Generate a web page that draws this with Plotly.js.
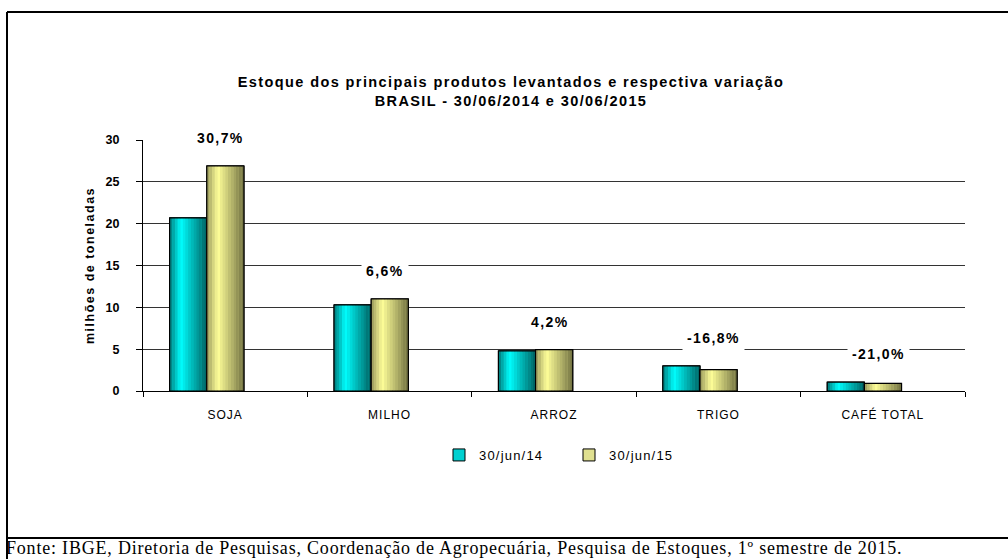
<!DOCTYPE html>
<html>
<head>
<meta charset="utf-8">
<script src="https://cdn.plot.ly/plotly-3.0.1.min.js"></script>
<style>
html,body{margin:0;padding:0;background:#fff;}
#chart{width:1008px;height:559px;}
</style>
</head>
<body>
<div id="chart"></div>
<script>
// ---- data ----
var categories = ["SOJA", "MILHO", "ARROZ", "TRIGO", "CAFÉ TOTAL"];
var serie2014 = [20.7, 10.3, 4.8, 3.0, 1.07];
var serie2015 = [26.9, 11.0, 4.95, 2.55, 0.9];
var seriesNames = ["30/jun/14", "30/jun/15"];
var variacao = ["30,7%", "6,6%", "4,2%", "-16,8%", "-21,0%"];
var yTicks = [0, 5, 10, 15, 20, 25, 30];

// ---- layout geometry (pixels) ----
var W = 1008, H = 559;
var L = 143, R = 965, T = 140, B = 391;
function px(x){ return (x - L) / (R - L); }
function py(y){ return (B - y) / (B - T); }
function sp(txt, ls){ return '<span style="letter-spacing:' + ls + 'px">' + txt + '</span>'; }

var barW = 0.226;      // bar width in category units
var shift = -0.112;    // pair centre offset from category centre

function lerp(a,b,t){return a+(b-a)*t;}
function mix(c1,c2,t){
  return 'rgb('+Math.round(lerp(c1[0],c2[0],t))+','+Math.round(lerp(c1[1],c2[1],t))+','+Math.round(lerp(c1[2],c2[2],t))+')';
}
function gradColor(t, dark1, bright, dark2){
  if (t < 0.3) return mix(dark1, bright, t/0.3);
  return mix(bright, dark2, (t-0.3)/0.7);
}
var grads = [
  {d1:[0,120,120], b:[0,255,255], d2:[0,96,96], solid:'#00d0d0'},
  {d1:[150,150,90], b:[255,255,153], d2:[112,112,64], solid:'#e0e090'}
];

var traces = [];
var N = 14;
[serie2014, serie2015].forEach(function(vals, s){
  var base = shift - barW + s*barW;
  traces.push({
    type:'bar', x:categories, y:vals, name:sp(seriesNames[s], 1.2),
    offset: base, width: barW,
    marker:{color:grads[s].solid, line:{color:'#000', width:1}},
    hoverinfo:'y', showlegend:true
  });
  for (var k=0;k<N;k++){
    var t = (k+0.5)/N;
    traces.push({
      type:'bar', x:categories, y:vals, showlegend:false, hoverinfo:'skip',
      offset: base + k*barW/N, width: barW/N + 0.001,
      marker:{color:gradColor(t, grads[s].d1, grads[s].b, grads[s].d2), line:{width:0}}
    });
  }
  traces.push({
    type:'bar', x:categories, y:vals, showlegend:false, hoverinfo:'skip',
    offset: base, width: barW,
    marker:{color:'rgba(0,0,0,0)', line:{color:'#000', width:1.2}}
  });
});

var annotations = variacao.map(function(txt, i){
  return {
    x: i + shift + 0.085, y: Math.max(serie2014[i], serie2015[i]),
    xref:'x', yref:'y', text: '<b>'+sp(txt, 1.4)+'</b>', showarrow:false,
    yanchor:'middle', yshift: 28, bgcolor:'#ffffff', borderpad: 4,
    font:{family:'Liberation Sans, Arial, sans-serif', size:14, color:'#000'}
  };
});
annotations.push({
  xref:'paper', yref:'paper', x: px(4), y: py(548), xanchor:'left', yanchor:'middle',
  text: sp('Fonte: IBGE, Diretoria de Pesquisas, Coordenação de Agropecuária, Pesquisa de Estoques, 1º semestre de 2015.', 0.8),
  showarrow:false, font:{family:'Liberation Serif, Times New Roman, serif', size:18, color:'#000'}
});

var shapes = [
  {type:'line', xref:'paper', yref:'paper', x0:px(7), x1:px(W), y0:py(12), y1:py(12), line:{color:'#000', width:2}},
  {type:'line', xref:'paper', yref:'paper', x0:px(7), x1:px(7), y0:py(12), y1:py(H+2), line:{color:'#000', width:2}},
  {type:'line', xref:'paper', yref:'paper', x0:px(7), x1:px(W), y0:py(538), y1:py(538), line:{color:'#000', width:2}}
];

var layout = {
  width: W, height: H,
  margin:{l:L, r:W-R, t:T, b:H-B, pad:0},
  paper_bgcolor:'#fff', plot_bgcolor:'#fff',
  barmode:'overlay',
  font:{family:'Liberation Sans, Arial, sans-serif', color:'#000'},
  title:{
    text:'<b>' + sp('Estoque dos principais produtos levantados e respectiva variação', 1.4) + '<br>' + sp('BRASIL - 30/06/2014 e 30/06/2015', 1.4) + '</b>',
    x: px(511), xref:'paper', xanchor:'center', y: 1 - 87/H, yref:'container', yanchor:'middle',
    font:{family:'Liberation Sans, Arial, sans-serif', size:14.5, color:'#000'}
  },
  xaxis:{
    type:'category', categoryorder:'array', categoryarray:categories,
    tickmode:'array', tickvals:categories, ticktext:categories.map(function(c){return sp(c, 1);}),
    range:[-0.5, categories.length-0.5],
    showline:true, linecolor:'#000', linewidth:1,
    ticks:'outside', tickson:'boundaries', ticklen:5, tickcolor:'#000',
    ticklabelstandoff: 13,
    tickfont:{size:12, color:'#000'}, showgrid:false, zeroline:false, fixedrange:true
  },
  yaxis:{
    range:[0,30], tickvals:yTicks, ticktext:yTicks.map(String),
    showline:true, linecolor:'#000', linewidth:1,
    ticks:'outside', ticklen:6, tickcolor:'#000',
    ticklabelstandoff: 14,
    tickfont:{size:12.5, color:'#000', weight:'bold'},
    showgrid:true, gridcolor:'#333', gridwidth:1, zeroline:false,
    title:{text:'<b>' + sp('milhões de toneladas', 1.5) + '</b>', standoff: 8, font:{size:12.5, color:'#000'}},
    fixedrange:true
  },
  legend:{
    orientation:'h', x: px(439), xanchor:'left', y: py(455), yanchor:'middle',
    font:{size:13, color:'#000'}, entrywidth:85, entrywidthmode:'pixels',
    bgcolor:'rgba(0,0,0,0)', traceorder:'normal'
  },
  annotations: annotations,
  shapes: shapes,
  showlegend:true
};

Plotly.newPlot('chart', traces, layout, {displayModeBar:false, staticPlot:true});
</script>
</body>
</html>
